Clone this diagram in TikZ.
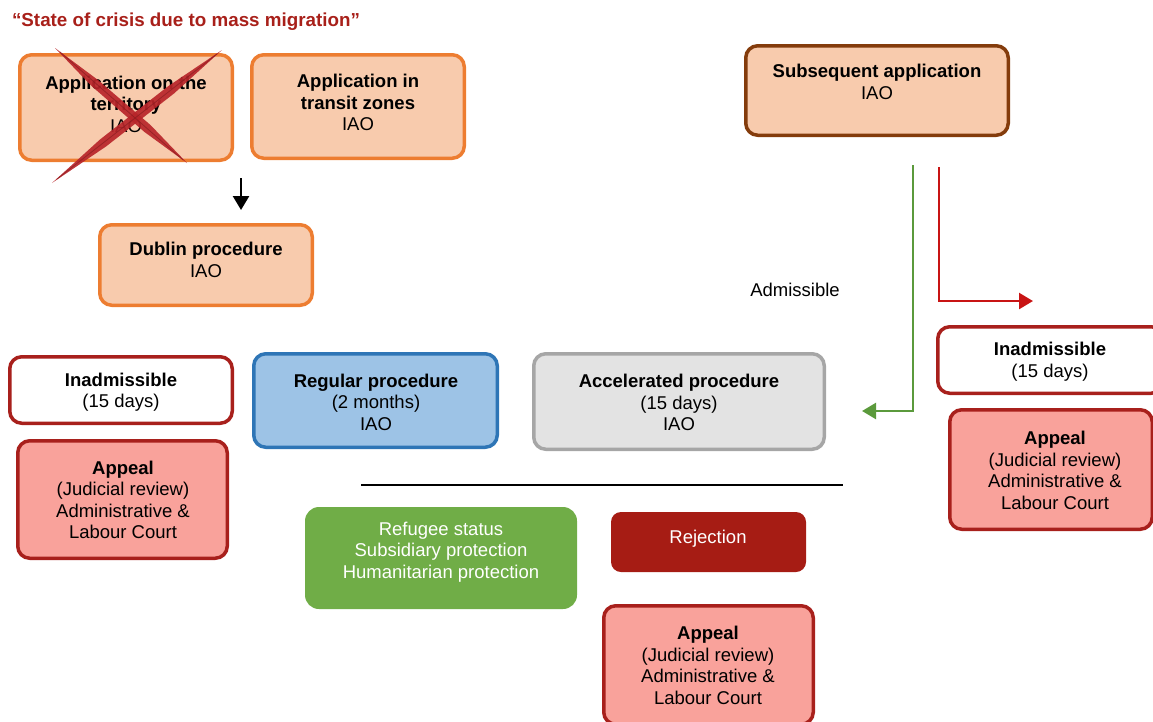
\documentclass[tikz,border=0pt]{standalone}
\usepackage{fontspec}
\setmainfont{Liberation Sans}
\usetikzlibrary{arrows.meta}
\definecolor{orangeB}{HTML}{ED7D31}
\definecolor{peach}{HTML}{F8CBAD}
\definecolor{brownB}{HTML}{843C0C}
\definecolor{darkredB}{HTML}{A8201C}
\definecolor{salmon}{HTML}{F9A29B}
\definecolor{blueB}{HTML}{2E75B6}
\definecolor{lightblue}{HTML}{9DC3E6}
\definecolor{grayB}{HTML}{A6A6A6}
\definecolor{lightgray}{HTML}{E3E3E3}
\definecolor{greenF}{HTML}{70AD47}
\definecolor{rejF}{HTML}{A61C14}
\definecolor{titleRed}{HTML}{A8201A}
\definecolor{arrowGreen}{HTML}{5B9A3C}
\definecolor{arrowRed}{HTML}{C81414}
\definecolor{crossRed}{HTML}{B8252A}
\begin{document}
\begin{tikzpicture}[x=1pt,y=-1pt,
  box/.style={draw, rounded corners=12pt, line width=3.5pt, inner sep=0pt},
  peachbox/.style={box, draw=orangeB, fill=peach},
  redbox/.style={box, draw=darkredB, fill=white},
  appealbox/.style={box, draw=darkredB, fill=salmon},
  txt/.style={align=center, font=\fontsize{18.5}{21.5}\selectfont, inner sep=0pt},
  conn/.style={line width=2.5pt},
  arrowhead/.style={-{Triangle[length=14pt,width=16pt]}}
]
\useasboundingbox (0,0) rectangle (1153,721);

% title
\node[txt, text=titleRed, font=\fontsize{18.8}{21.5}\selectfont] (title) at (186,22) {\textbf{“State of crisis due to mass migration”}};

% boxes
\node[peachbox, minimum width=212.5pt, minimum height=105.5pt] (terr) at (126,107.5) {};
\node[peachbox, minimum width=212.5pt, minimum height=103.5pt] (transit) at (358,106.5) {};
\node[box, draw=brownB, fill=peach, minimum width=262.5pt, minimum height=89.5pt] (subs) at (877,90.5) {};
\node[peachbox, minimum width=212.5pt, minimum height=80.5pt] (dublin) at (206,265) {};
\node[redbox, minimum width=222.5pt, minimum height=66.5pt] (inadmL) at (121,390) {};
\node[box, draw=blueB, fill=lightblue, minimum width=243.5pt, minimum height=93.5pt] (regular) at (375.5,400.5) {};
\node[box, draw=grayB, fill=lightgray, minimum width=290.5pt, minimum height=95.5pt] (accel) at (679,401.5) {};
\node[redbox, minimum width=225.5pt, minimum height=66.5pt] (inadmR) at (1050.5,360) {};
\node[appealbox, minimum width=202.5pt, minimum height=119.5pt] (appealR) at (1051,469.5) {};
\node[appealbox, minimum width=209.5pt, minimum height=117.5pt] (appealL) at (122.5,499.5) {};
\node[fill=greenF, rounded corners=14pt, minimum width=272pt, minimum height=102pt, inner sep=0pt] (status) at (441,558) {};
\node[fill=rejF, rounded corners=10pt, minimum width=195pt, minimum height=60pt, inner sep=0pt] (reject) at (708.5,542) {};
\node[appealbox, minimum width=209.5pt, minimum height=118.5pt] (appealB) at (708.5,665) {};

% texts
\node[txt] (terrT) at (126,104) {\textbf{Application on the}\\\textbf{territory}\\IAO};
\node[txt] (transitT) at (358,102.5) {\textbf{Application in}\\\textbf{transit zones}\\IAO};
\node[txt] (subsT) at (877,82) {\textbf{Subsequent application}\\IAO};
\node[txt] (dublinT) at (206,260) {\textbf{Dublin procedure}\\IAO};
\node[txt] (inadmLT) at (121,392) {\textbf{Inadmissible}\\(15 days)};
\node[txt] (regularT) at (376,402) {\textbf{Regular procedure}\\(2 months)\\IAO};
\node[txt] (accelT) at (679,402.5) {\textbf{Accelerated procedure}\\(15 days)\\IAO};
\node[txt] (inadmRT) at (1050,361.5) {\textbf{Inadmissible}\\(15 days)};
\node[txt] (appealRT) at (1055,470.5) {\textbf{Appeal}\\(Judicial review)\\Administrative \&\\Labour Court};
\node[txt] (appealLT) at (123,500) {\textbf{Appeal}\\(Judicial review)\\Administrative \&\\Labour Court};
\node[txt, text=white] (statusT) at (441,552) {Refugee status\\Subsidiary protection\\Humanitarian protection};
\node[txt, text=white] (rejectT) at (708,539) {Rejection};
\node[txt] (appealBT) at (708,665.5) {\textbf{Appeal}\\(Judicial review)\\Administrative \&\\Labour Court};
\node[txt] (admiss) at (795,290) {Admissible};

% red cross over the first box
\fill[crossRed, opacity=0.92] (55,48) -- (98,80) -- (150.5,125) -- (187,163) -- (144.5,132) -- (91.5,86) -- cycle;
\fill[crossRed, opacity=0.92] (222,50) -- (174,93.5) -- (106,146.5) -- (52,183) -- (100,139.5) -- (168,86.3) -- cycle;
\draw[crossRed!70!black, line width=0.8pt, opacity=0.6] (60,52) -- (183,160);
\draw[crossRed!70!black, line width=0.8pt, opacity=0.6] (217,54) -- (57,179);

% connectors
\coordinate (dA) at (241,178);
\coordinate (dB) at (241,210);
\draw[conn, arrowhead, black] (dA) -- (dB);

\coordinate (hl1) at (361,485);
\coordinate (hl2) at (843,485);
\draw[line width=2.2pt, black] (hl1) -- (hl2);

\coordinate (g1) at (913,165);
\coordinate (g2) at (862,411);
\draw[conn, arrowhead, arrowGreen] (g1) |- (g2);

\coordinate (r1) at (939,167);
\coordinate (r2) at (1033,301);
\draw[conn, arrowhead, arrowRed] (r1) |- (r2);
\end{tikzpicture}
\end{document}
